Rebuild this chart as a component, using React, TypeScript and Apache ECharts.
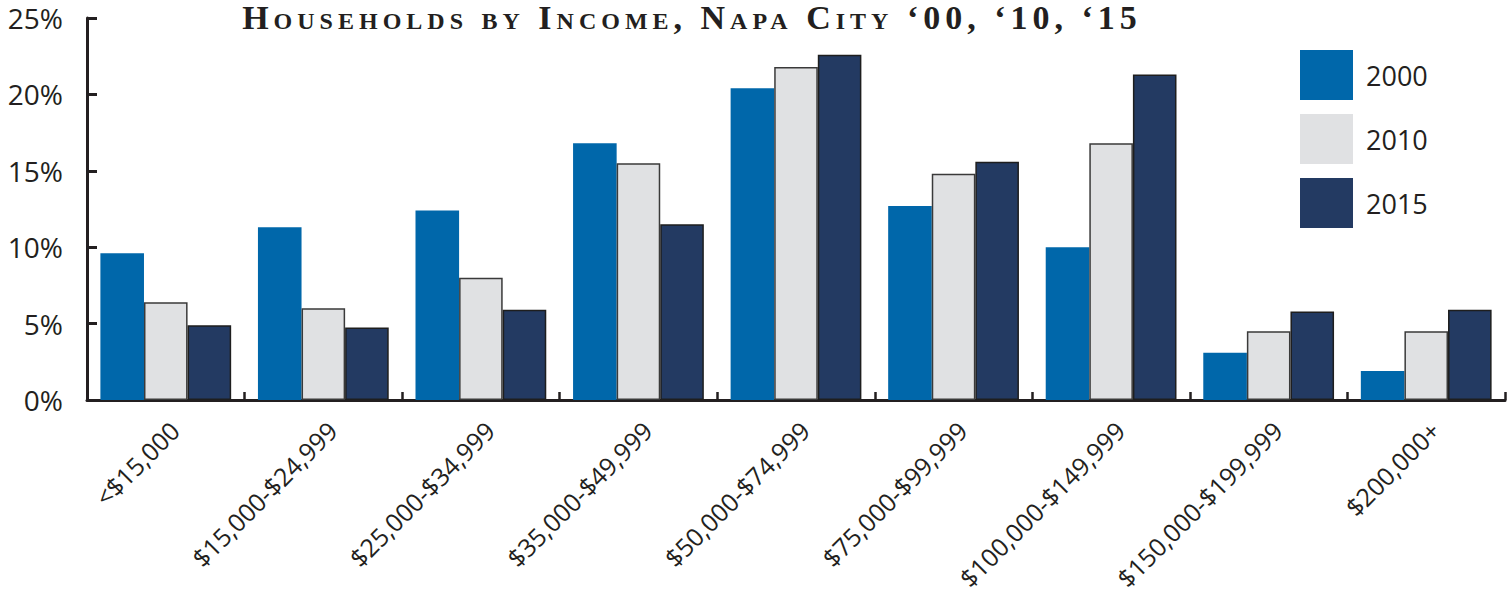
import React, { useEffect, useRef } from "react";
import * as echarts from "echarts";

const categories = [
  "<$15,000",
  "$15,000-$24,999",
  "$25,000-$34,999",
  "$35,000-$49,999",
  "$50,000-$74,999",
  "$75,000-$99,999",
  "$100,000-$149,999",
  "$150,000-$199,999",
  "$200,000+",
];
const seriesNames = ["2000", "2010", "2015"];
const values2000 = [9.6, 11.3, 12.4, 16.8, 20.4, 12.7, 10.0, 3.1, 1.9];
const values2010 = [6.4, 6.0, 8.0, 15.5, 21.8, 14.8, 16.8, 4.5, 4.5];
const values2015 = [4.9, 4.75, 5.9, 11.5, 22.6, 15.6, 21.3, 5.8, 5.9];
const yTicks = [0, 5, 10, 15, 20, 25];
const titleText = "Households by Income, Napa City \u201800, \u201810, \u201815";

const colors = ["#0067aa", "#e0e1e3", "#233a62"];
const borders = [
  { borderWidth: 0, borderColor: "#0067aa" },
  { borderWidth: 1.5, borderColor: "#3a3a3a" },
  { borderWidth: 1.5, borderColor: "#1e1e1e" },
];
const ink = "#231f20";

export default function App() {
  const ref = useRef<HTMLDivElement>(null);
  useEffect(() => {
    document.body.style.margin = "0";
    document.body.style.overflow = "hidden";
    const chart = echarts.init(ref.current!, null, { renderer: "svg" });
    const data = [values2000, values2010, values2015];
    chart.setOption({
      animation: false,
      backgroundColor: "#ffffff",
      graphic: [
        {
          type: "text",
          x: 692,
          y: 17,
          style: {
            text: titleText,
            fill: ink,
            fontSize: 34,
            fontWeight: "bold",
            fontFamily:
              "Liberation Serif; font-variant: small-caps; letter-spacing: 5px",
            textAlign: "center",
            textVerticalAlign: "middle",
          },
        },
      ],
      legend: {
        orient: "vertical",
        left: 1300,
        top: 50,
        padding: 0,
        itemWidth: 53,
        itemHeight: 50,
        itemGap: 14,
        icon: "rect",
        data: seriesNames,
        itemStyle: { borderWidth: 0 },
        textStyle: {
          fontFamily: "Open Sans",
          fontSize: 27,
          color: ink,
          padding: [4, 0, 0, 8],
        },
      },
      grid: {
        left: 87,
        right: 5,
        top: 18,
        bottom: 199,
        containLabel: false,
        outerBoundsMode: "none",
      },
      xAxis: {
        type: "category",
        data: categories,
        boundaryGap: true,
        axisLine: { show: true, lineStyle: { color: ink, width: 3 } },
        axisTick: {
          show: true,
          inside: true,
          length: 8,
          interval: 0,
          lineStyle: { color: ink, width: 2.5 },
        },
        axisLabel: {
          interval: 0,
          rotate: 45,
          margin: 17,
          fontSize: 25,
          fontFamily: "Open Sans",
          color: ink,
          verticalAlign: "top",
        },
      },
      yAxis: {
        type: "value",
        min: yTicks[0],
        max: yTicks[yTicks.length - 1],
        interval: 5,
        axisLine: { show: true, lineStyle: { color: ink, width: 3 } },
        axisTick: {
          show: true,
          inside: true,
          length: 10,
          lineStyle: { color: ink, width: 3 },
        },
        splitLine: { show: false },
        axisLabel: {
          formatter: "{value}%",
          margin: 24,
          fontSize: 28,
          fontFamily: "Open Sans",
          color: ink,
        },
      },
      series: seriesNames.map((name, i) => ({
        name,
        type: "bar",
        data: data[i],
        barGap: "0%",
        barCategoryGap: "17%",
        itemStyle: { color: colors[i], ...borders[i] },
      })),
    });
    return () => chart.dispose();
  }, []);
  return <div ref={ref} style={{ width: 1510, height: 599 }} />;
}
